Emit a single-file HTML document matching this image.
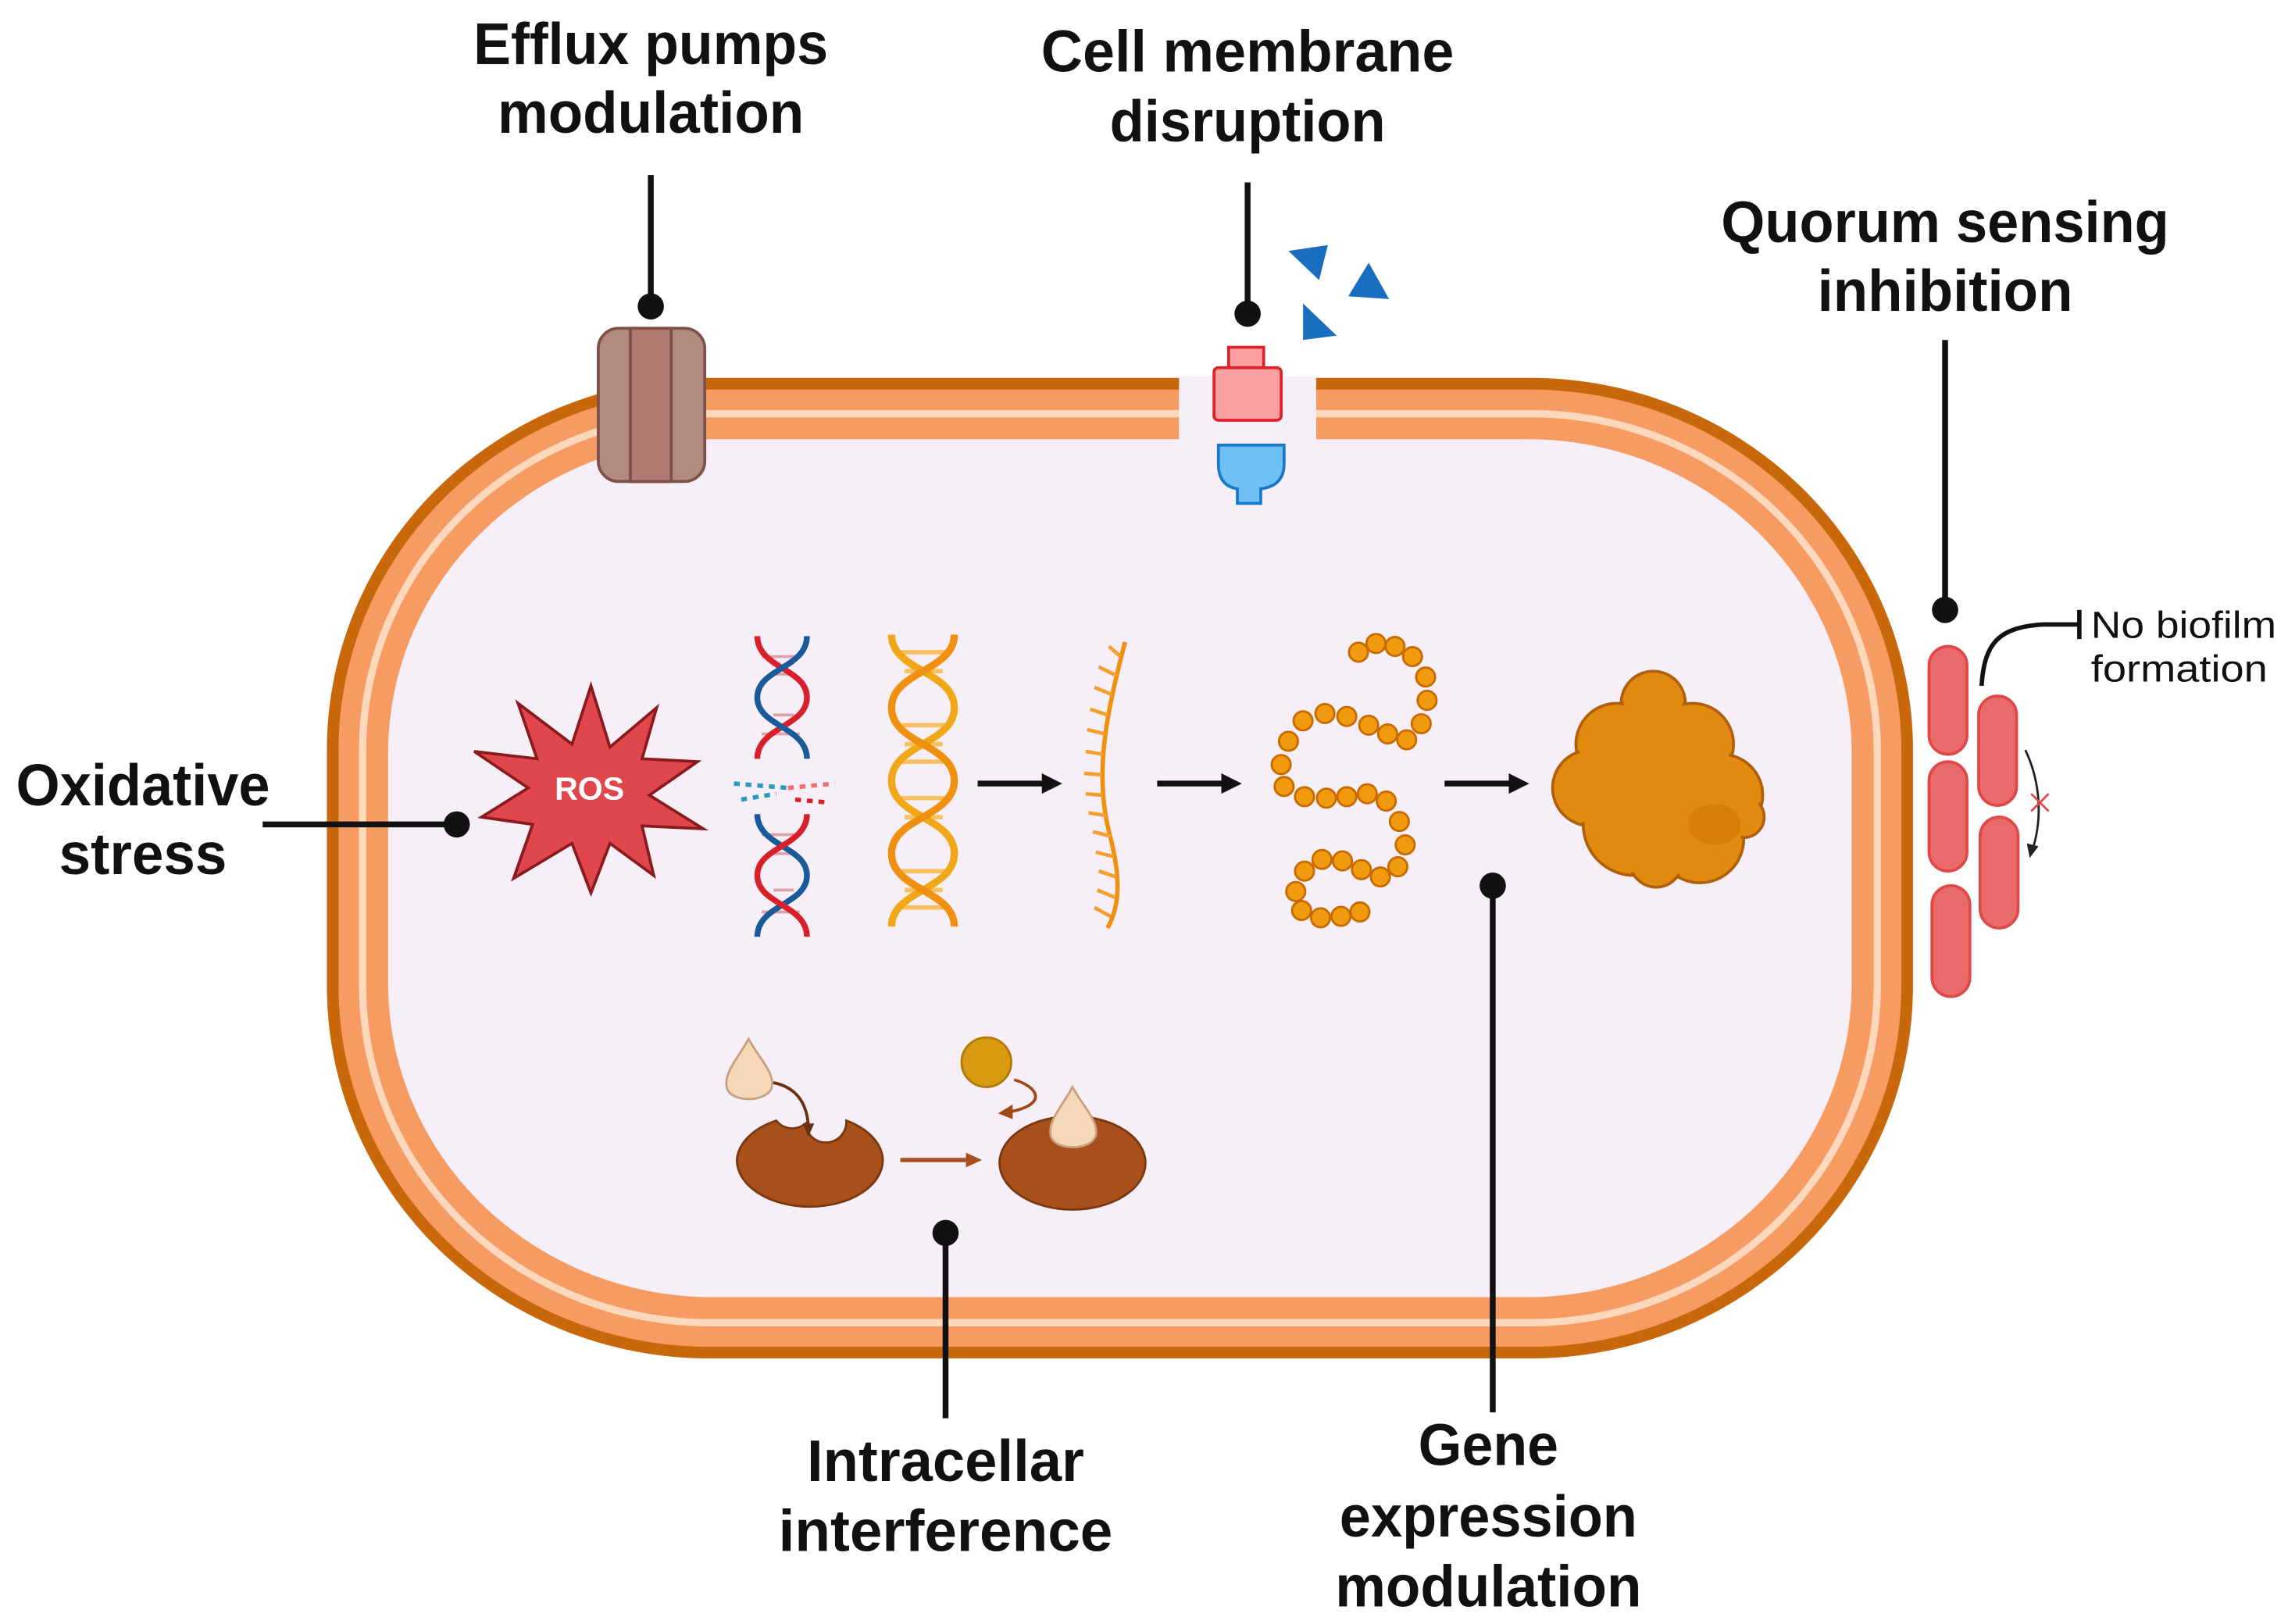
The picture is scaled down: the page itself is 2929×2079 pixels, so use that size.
<!DOCTYPE html>
<html><head><meta charset="utf-8"><style>
html,body{margin:0;padding:0;background:#fff}
svg{display:block}
.lb{font-family:"Liberation Sans Narrow","Liberation Sans",sans-serif;font-weight:bold;font-size:40px;fill:#111;text-anchor:middle}
</style></head><body>
<svg width="2929" height="2079" viewBox="0 0 1568 1113" preserveAspectRatio="none" xmlns="http://www.w3.org/2000/svg">
<rect width="1568" height="1113" fill="#fff"/>
<!-- cell -->
<rect x="224" y="259" width="1087" height="672" rx="262" ry="255" fill="#c8680a"/>
<rect x="232" y="267" width="1071" height="656" rx="254" ry="247" fill="#f69b62"/>
<rect x="246" y="281" width="1043" height="628" rx="240" ry="233" fill="#fdd8bc"/>
<rect x="251" y="286" width="1033" height="618" rx="235" ry="228" fill="#f69b62"/>
<rect x="266" y="301" width="1003" height="588" rx="222" ry="215" fill="#f7eff7"/>
<!-- gap in membrane -->
<rect x="808" y="250" width="94" height="52" fill="#f7eff7"/>
<rect x="808" y="250" width="94" height="8" fill="#fff"/>
<!-- efflux pump -->
<rect x="410" y="225" width="73" height="105" rx="14" fill="#b28a80" stroke="#7d5048" stroke-width="2"/>
<rect x="432" y="225" width="28" height="105" fill="#b07a70" stroke="#7d5048" stroke-width="2"/>
<!-- membrane protein -->
<rect x="842" y="238" width="24" height="16" fill="#fba1a4" stroke="#e0202a" stroke-width="2"/>
<rect x="832" y="252" width="46" height="36" rx="3" fill="#fba1a4" stroke="#e0202a" stroke-width="2"/>
<path d="M835,305 H880 V318 Q880,333 864,335 V345 H848 V335 Q835,333 835,318 Z" fill="#6ec0f5" stroke="#1a78c8" stroke-width="2"/>
<polygon points="883,172 910,168 904,192" fill="#1a6ec0"/>
<polygon points="938,180 952,205 924,203" fill="#1a6ec0"/>
<polygon points="893,208 916,230 893,233" fill="#1a6ec0"/>
<!-- pointer lines -->
<g stroke="#111" stroke-width="4" fill="none">
<line x1="446" y1="120" x2="446" y2="210"/>
<line x1="855" y1="125" x2="855" y2="215"/>
<line x1="1333" y1="233" x2="1333" y2="418"/>
<line x1="180" y1="565" x2="313" y2="565"/>
<line x1="648" y1="845" x2="648" y2="972"/>
<line x1="1023" y1="607" x2="1023" y2="968"/>
</g>
<g fill="#111">
<circle cx="446" cy="210" r="9"/><circle cx="855" cy="215" r="9"/><circle cx="1333" cy="418" r="9"/>
<circle cx="313" cy="565" r="9"/><circle cx="648" cy="845" r="9"/><circle cx="1023" cy="607" r="9"/>
</g>
<!-- labels -->
<text class="lb" x="446" y="44" textLength="243" lengthAdjust="spacingAndGlyphs">Efflux pumps</text>
<text class="lb" x="446" y="91" textLength="210" lengthAdjust="spacingAndGlyphs">modulation</text>
<text class="lb" x="855" y="49" textLength="283" lengthAdjust="spacingAndGlyphs">Cell membrane</text>
<text class="lb" x="855" y="97" textLength="189" lengthAdjust="spacingAndGlyphs">disruption</text>
<text class="lb" x="1333" y="166" textLength="307" lengthAdjust="spacingAndGlyphs">Quorum sensing</text>
<text class="lb" x="1333" y="213" textLength="175" lengthAdjust="spacingAndGlyphs">inhibition</text>
<text class="lb" x="98" y="552" textLength="174" lengthAdjust="spacingAndGlyphs">Oxidative</text>
<text class="lb" x="98" y="599" textLength="115" lengthAdjust="spacingAndGlyphs">stress</text>
<text class="lb" x="648" y="1015" textLength="190" lengthAdjust="spacingAndGlyphs">Intracellar</text>
<text class="lb" x="648" y="1063" textLength="229" lengthAdjust="spacingAndGlyphs">interference</text>
<text class="lb" x="1020" y="1004" textLength="96" lengthAdjust="spacingAndGlyphs">Gene</text>
<text class="lb" x="1020" y="1053" textLength="204" lengthAdjust="spacingAndGlyphs">expression</text>
<text class="lb" x="1020" y="1101" textLength="210" lengthAdjust="spacingAndGlyphs">modulation</text>
<!-- ROS -->
<polygon points="405,470 418,512 450,485 440,520 478,522 445,545 482,568 440,566 448,600 418,578 405,612 392,578 352,602 365,565 330,560 362,540 325,515 368,520 355,482 392,510" fill="#e0474c" stroke="#8a1a1e" stroke-width="2"/>
<text x="404" y="548" font-family="Liberation Sans Narrow,Liberation Sans,sans-serif" font-weight="bold" font-size="22" fill="#fff" text-anchor="middle">ROS</text>
<!-- broken DNA -->
<g stroke-width="4" fill="none">
<g stroke="#e0a0a8" stroke-width="2">
<line x1="522" y1="450" x2="548" y2="450"/><line x1="528" y1="462" x2="544" y2="462"/><line x1="530" y1="490" x2="544" y2="490"/><line x1="522" y1="503" x2="548" y2="503"/>
<line x1="522" y1="572" x2="548" y2="572"/><line x1="528" y1="585" x2="544" y2="585"/><line x1="530" y1="610" x2="544" y2="610"/><line x1="522" y1="625" x2="548" y2="625"/>
</g>
<path d="M519,436 C519,458 553,458 553,478 C553,498 519,498 519,520" stroke="#d8202a"/>
<path d="M553,436 C553,458 519,458 519,478 C519,498 553,498 553,520" stroke="#1a5a9a"/>
<path d="M519,558 C519,580 553,580 553,600 C553,620 519,620 519,642" stroke="#1a5a9a"/>
<path d="M553,558 C553,580 519,580 519,600 C519,620 553,620 553,642" stroke="#d8202a"/>
</g>
<g stroke-width="3" stroke-dasharray="4 4">
<line x1="503" y1="537" x2="540" y2="540" stroke="#2a9ac0"/>
<line x1="540" y1="540" x2="572" y2="537" stroke="#f07070"/>
<line x1="508" y1="548" x2="532" y2="544" stroke="#2a9ac0"/>
<line x1="545" y1="548" x2="568" y2="550" stroke="#d8202a"/>
</g>
<!-- gold helix -->
<g stroke="#f8c060" stroke-width="3">
<line x1="614" y1="447" x2="650" y2="447"/><line x1="620" y1="460" x2="646" y2="460"/><line x1="620" y1="510" x2="646" y2="510"/><line x1="614" y1="522" x2="650" y2="522"/>
<line x1="614" y1="547" x2="650" y2="547"/><line x1="620" y1="560" x2="646" y2="560"/><line x1="620" y1="610" x2="646" y2="610"/><line x1="614" y1="622" x2="650" y2="622"/>
<line x1="614" y1="497" x2="650" y2="497"/><line x1="614" y1="597" x2="650" y2="597"/>
</g>
<g fill="none" stroke-width="5">
<path d="M611,435 C611,460 654,460 654,485 C654,510 611,510 611,535 C611,560 654,560 654,585 C654,610 611,610 611,635" stroke="#f0a818"/>
<path d="M654,435 C654,460 611,460 611,485 C611,510 654,510 654,535 C654,560 611,560 611,585 C611,610 654,610 654,635" stroke="#f09010"/>
</g>
<!-- arrows -->
<g stroke="#111" stroke-width="4"><line x1="670" y1="537" x2="716" y2="537"/><line x1="793" y1="537" x2="839" y2="537"/><line x1="990" y1="537" x2="1036" y2="537"/></g>
<g fill="#111"><polygon points="714,530 728,537 714,544"/><polygon points="837,530 851,537 837,544"/><polygon points="1034,530 1048,537 1034,544"/></g>
<!-- mRNA -->
<path d="M771,440 C758,490 750,530 760,570 C768,600 768,620 759,636" fill="none" stroke="#f09010" stroke-width="3"/>
<g stroke="#f4a030" stroke-width="2.5">
<line x1="768" y1="450" x2="760" y2="443"/><line x1="765" y1="463" x2="753" y2="457"/><line x1="762" y1="476" x2="750" y2="471"/><line x1="759" y1="490" x2="747" y2="486"/><line x1="757" y1="503" x2="745" y2="500"/><line x1="756" y1="517" x2="744" y2="515"/><line x1="755" y1="531" x2="743" y2="530"/><line x1="756" y1="545" x2="744" y2="544"/><line x1="758" y1="559" x2="746" y2="557"/><line x1="761" y1="573" x2="749" y2="570"/><line x1="763" y1="587" x2="751" y2="584"/><line x1="765" y1="601" x2="753" y2="597"/><line x1="764" y1="615" x2="752" y2="610"/><line x1="761" y1="628" x2="750" y2="622"/>
</g>
<!-- bead chain -->
<g fill="#f09a10" stroke="#c86a00" stroke-width="1.5">
<circle cx="931" cy="447" r="6.5"/><circle cx="943" cy="441" r="6.5"/><circle cx="956" cy="443" r="6.5"/><circle cx="968" cy="450" r="6.5"/><circle cx="977" cy="464" r="6.5"/><circle cx="978" cy="480" r="6.5"/><circle cx="974" cy="496" r="6.5"/><circle cx="964" cy="507" r="6.5"/><circle cx="951" cy="503" r="6.5"/><circle cx="938" cy="497" r="6.5"/><circle cx="923" cy="491" r="6.5"/><circle cx="908" cy="489" r="6.5"/><circle cx="893" cy="494" r="6.5"/><circle cx="883" cy="508" r="6.5"/><circle cx="878" cy="524" r="6.5"/><circle cx="880" cy="539" r="6.5"/><circle cx="894" cy="546" r="6.5"/><circle cx="909" cy="547" r="6.5"/><circle cx="923" cy="546" r="6.5"/><circle cx="937" cy="544" r="6.5"/><circle cx="950" cy="549" r="6.5"/><circle cx="959" cy="563" r="6.5"/><circle cx="963" cy="579" r="6.5"/><circle cx="958" cy="594" r="6.5"/><circle cx="946" cy="601" r="6.5"/><circle cx="933" cy="596" r="6.5"/><circle cx="920" cy="590" r="6.5"/><circle cx="906" cy="589" r="6.5"/><circle cx="894" cy="597" r="6.5"/><circle cx="888" cy="611" r="6.5"/><circle cx="892" cy="624" r="6.5"/><circle cx="905" cy="629" r="6.5"/><circle cx="919" cy="628" r="6.5"/><circle cx="932" cy="625" r="6.5"/>
</g>
<!-- protein blob -->
<g fill="#e08a10" stroke="#b0600a" stroke-width="2">
<circle cx="1133" cy="482" r="22"/><circle cx="1108" cy="510" r="28"/><circle cx="1160" cy="510" r="28"/><circle cx="1090" cy="540" r="26"/><circle cx="1180" cy="545" r="28"/><circle cx="1120" cy="565" r="35"/><circle cx="1165" cy="575" r="30"/><circle cx="1135" cy="590" r="18"/><circle cx="1195" cy="560" r="14"/>
</g>
<g fill="#e08a10"><circle cx="1133" cy="482" r="20"/><circle cx="1108" cy="510" r="26"/><circle cx="1160" cy="510" r="26"/><circle cx="1090" cy="540" r="24"/><circle cx="1180" cy="545" r="26"/><circle cx="1120" cy="565" r="33"/><circle cx="1165" cy="575" r="28"/><circle cx="1135" cy="590" r="16"/><circle cx="1195" cy="560" r="12"/><circle cx="1135" cy="535" r="35"/></g>
<ellipse cx="1175" cy="565" rx="18" ry="14" fill="#d87e08"/>
<!-- enzymes -->
<path d="M505,795 A50,32 0 1 0 605,795 A50,32 0 0 0 580,768 A14,14 0 0 1 552,770 A14,14 0 0 1 532,768 A50,32 0 0 0 505,795 Z" fill="#a8501c" stroke="#7a3810" stroke-width="1.5"/>
<path d="M685,797 A50,32 0 1 0 785,797 A50,32 0 0 0 685,797 Z" fill="#a8501c" stroke="#7a3810" stroke-width="1.5"/>
<path d="M513,712 C506,725 496,735 498,745 C500,756 526,756 529,745 C531,735 520,725 513,712 Z" fill="#f5d8b8" stroke="#c8a080" stroke-width="1.5"/>
<path d="M735,745 C728,758 718,768 720,778 C722,789 748,789 751,778 C753,768 742,758 735,745 Z" fill="#f5d8b8" stroke="#c8a080" stroke-width="1.5"/>
<circle cx="676" cy="728" r="17" fill="#d89a10" stroke="#b07a08" stroke-width="1.5"/>
<path d="M530,742 C545,745 553,755 554,772" fill="none" stroke="#6a3010" stroke-width="2"/>
<polygon points="550,770 558,770 554,779" fill="#6a3010"/>
<path d="M695,740 C712,745 718,757 692,762" fill="none" stroke="#a04818" stroke-width="2"/>
<polygon points="694,757 684,763 694,767" fill="#a04818"/>
<line x1="617" y1="795" x2="664" y2="795" stroke="#a85020" stroke-width="3"/>
<polygon points="662,790 673,795 662,800" fill="#a85020"/>
<!-- bacteria -->
<g fill="#e86a6a" stroke="#e04848" stroke-width="2">
<rect x="1322" y="443" width="26" height="74" rx="13"/>
<rect x="1322" y="522" width="26" height="75" rx="13"/>
<rect x="1324" y="607" width="26" height="76" rx="13"/>
<rect x="1356" y="477" width="26" height="75" rx="13"/>
<rect x="1357" y="560" width="26" height="76" rx="13"/>
</g>
<path d="M1358,470 C1360,440 1370,430 1400,428 L1425,428" fill="none" stroke="#111" stroke-width="3"/>
<line x1="1425" y1="418" x2="1425" y2="438" stroke="#111" stroke-width="3"/>
<text x="1433" y="437" font-family="Liberation Sans,sans-serif" font-size="26" fill="#111" textLength="127" lengthAdjust="spacingAndGlyphs">No biofilm</text>
<text x="1433" y="467" font-family="Liberation Sans,sans-serif" font-size="26" fill="#111" textLength="121" lengthAdjust="spacingAndGlyphs">formation</text>
<path d="M1388,514 C1398,535 1400,560 1393,582" fill="none" stroke="#222" stroke-width="1.5"/>
<polygon points="1389,578 1397,580 1391,588" fill="#222"/>
<g stroke="#e04848" stroke-width="1.5"><line x1="1392" y1="544" x2="1404" y2="556"/><line x1="1404" y1="544" x2="1392" y2="556"/></g>
</svg>
</body></html>
